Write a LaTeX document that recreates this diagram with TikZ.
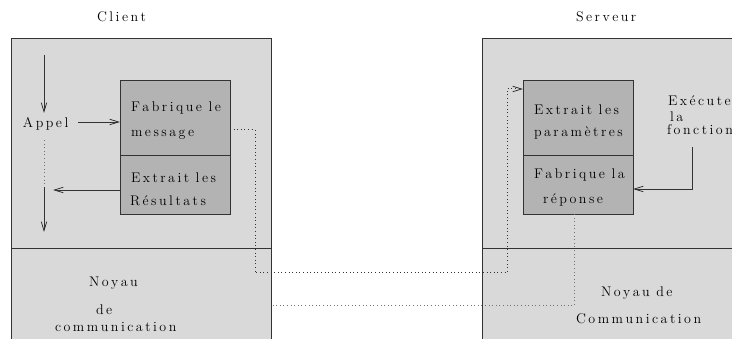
\documentclass[tikz,border=0pt]{standalone}
\usepackage{fontspec}
\usetikzlibrary{arrows.meta}
\definecolor{outerfill}{HTML}{D9D9D9}
\definecolor{innerfill}{HTML}{B3B3B3}
\definecolor{linecol}{HTML}{333333}
\definecolor{dotcol}{HTML}{333333}
\newcommand{\lblfont}{\fontsize{14}{16}\selectfont}
\makeatletter
\def\lspamt{2.5pt}
\def\lspword{\hspace{6.5pt}}
\let\lsp@end\relax
\def\lsp#1{\lsp@a#1\lsp@end}
\def\lsp@a#1{\ifx#1\lsp@end\else#1\expandafter\lsp@b\fi}
\def\lsp@b#1{\ifx#1\lsp@end\else\kern\lspamt#1\expandafter\lsp@b\fi}
\makeatother
\begin{document}
\begin{tikzpicture}[x=1pt,y=-1pt,
  outerbox/.style={draw=linecol,fill=outerfill,line width=0.8pt,outer sep=0pt,inner sep=0pt},
  innerbox/.style={draw=linecol,fill=innerfill,line width=0.8pt,outer sep=0pt,inner sep=0pt,minimum width=110pt},
  lab/.style={font=\lblfont,inner sep=0pt,outer sep=0pt,anchor=base west,text=black},
  arr/.style={draw=linecol,line width=0.8pt,-{Straight Barb[length=9pt,width=5.5pt,line width=0.8pt]}},
  dots/.style={draw=dotcol,line width=1pt,dash pattern=on 1pt off 2.6pt},
]
\useasboundingbox (0,0) rectangle (732,339);
\fill[white] (0,0) rectangle (732,339);
\clip (0,0) rectangle (732,339);
% outer boxes
\node[outerbox,minimum width=260pt,minimum height=210pt] (clientTop) at (141,143) {};
\node[outerbox,minimum width=260pt,minimum height=102pt] (clientBot) at (141,299) {};
\node[outerbox,minimum width=263pt,minimum height=210pt] (serverTop) at (613.5,143) {};
\node[outerbox,minimum width=263pt,minimum height=102pt] (serverBot) at (613.5,299) {};
% inner boxes
\node[innerbox,minimum height=75pt] (fab) at (175,117.5) {};
\node[innerbox,minimum height=59pt] (extr) at (175,184.5) {};
\node[innerbox,minimum height=75pt] (extp) at (578,117.5) {};
\node[innerbox,minimum height=59pt] (fabr) at (578,184.5) {};
% titles
\node[lab] (tclient) at (97,21.7) {\lsp{Client}};
\node[lab] (tserver) at (576,21.7) {\lsp{Serveur}};
% client texts
\node[lab] (appel) at (23,127.7) {\lsp{Appel}};
\node[lab] (f1) at (131,111.7) {\lsp{Fabrique}\lspword\lsp{le}};
\node[lab] (f2) at (131,137) {\lsp{message}};
\node[lab] (e1) at (131,182.7) {\lsp{Extrait}\lspword\lsp{les}};
\node[lab] (e2) at (130,205.7) {\lsp{Résultats}};
\node[lab] (n1) at (89,287) {\lsp{Noyau}};
\node[lab] (n2) at (96,315) {\lsp{de}};
\node[lab] (n3) at (55,331.7) {\lsp{communication}};
% server texts
\node[lab] (s1) at (534,114.3) {\lsp{Extrait}\lspword\lsp{les}};
\node[lab] (s2) at (534,136.7) {\lsp{paramètres}};
\node[lab] (s3) at (534,178.3) {\lsp{Fabrique}\lspword\lsp{la}};
\node[lab] (s4) at (543,203.3) {\lsp{réponse}};
\node[lab] (x1) at (668,106) {\lsp{Exécute}};
\node[lab] (x2) at (670,121.7) {\lsp{la}};
\node[lab] (x3) at (667,135) {\lsp{fonction}};
\node[lab] (m1) at (601,296.7) {\lsp{Noyau}\lspword\lsp{de}};
\node[lab] (m2) at (576,323.3) {\lsp{Communication}};
% client flow
\coordinate (c1) at (44,55);
\coordinate (c2) at (44,113);
\coordinate (c3) at (44,140);
\coordinate (c4) at (44,187);
\coordinate (c5) at (44,232);
\draw[arr] (c1) -- (c2);
\draw[dots,draw=black!55] (c3) -- (c4);
\draw[arr] (c4) -- (c5);
\coordinate (ap) at (78,122);
\draw[arr] (ap) -- (ap -| fab.west);
\coordinate (ret) at (53,190);
\draw[arr] (ret -| extr.west) -- (ret);
% server flow
\coordinate (ex) at (692,147);
\draw[arr] (ex) |- ([yshift=-4.5pt]fabr.east);
% dotted links
\coordinate (d1) at (255,273);
\coordinate (d2) at (507,89);
\draw[dots,-{Straight Barb[length=9pt,width=5.5pt,line width=0.8pt]}] ([yshift=-12.5pt]fab.east) -| (d1) -| (d2) -- (d2 -| extp.west);
\coordinate (d3) at (574,306);
\draw[dots,draw=black!55] (fabr.south -| d3) -- (d3) -- (d3 -| clientBot.east);
\end{tikzpicture}
\end{document}
